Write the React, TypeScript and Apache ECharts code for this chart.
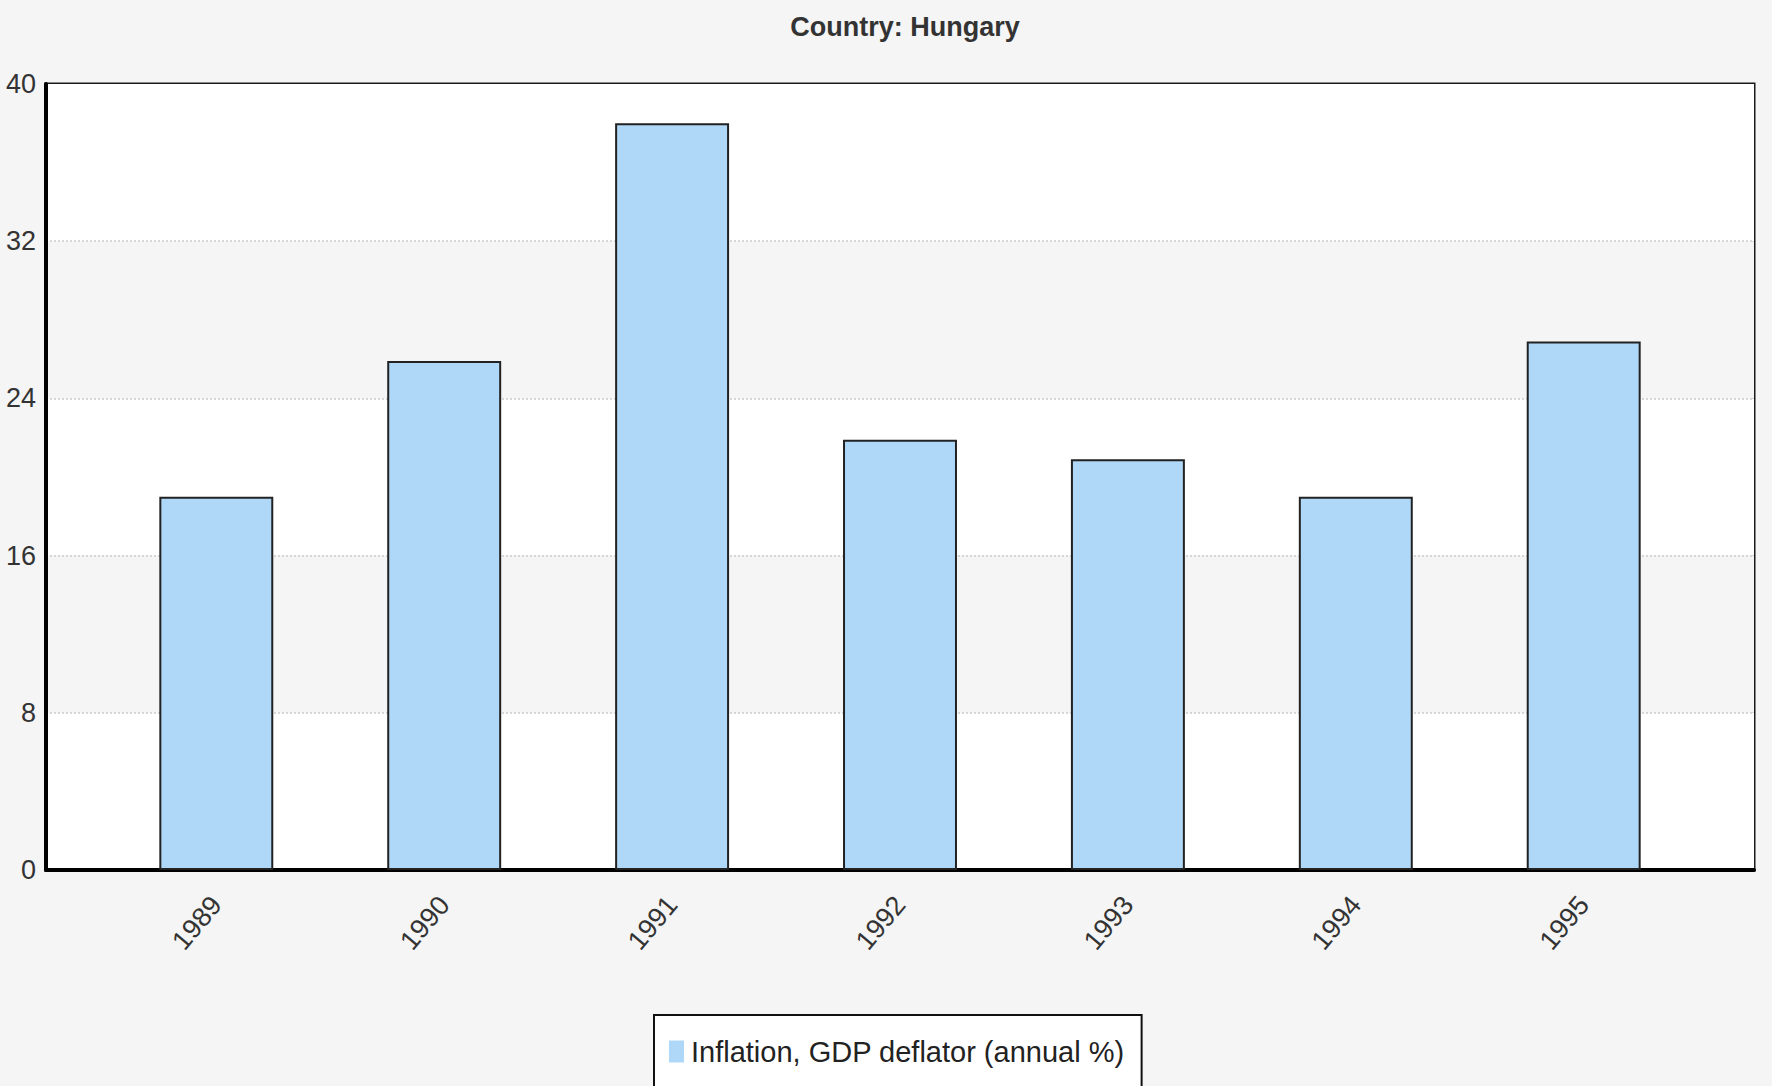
import React, { useEffect, useRef } from "react";
import * as echarts from "echarts";

const years = ["1989", "1990", "1991", "1992", "1993", "1994", "1995"];
const inflation = [19.0, 25.9, 38.0, 21.9, 20.9, 19.0, 26.9];
const seriesName = "Inflation, GDP deflator (annual %)";
const titleText = "Country: Hungary";
const yMin = 0;
const yMax = 40;
const yStep = 8;

export default function App() {
  const ref = useRef<HTMLDivElement>(null);
  useEffect(() => {
    if (!ref.current) return;
    const chart = echarts.init(ref.current, null, { renderer: "svg" });
    const font = "Liberation Sans";
    chart.setOption({
      animation: false,
      backgroundColor: "#f5f5f5",
      title: {
        text: titleText,
        left: 900,
        top: 8,
        textAlign: "center",
        textStyle: { fontFamily: font, fontSize: 27, fontWeight: "bold", color: "#333" },
      },
      legend: {
        data: [seriesName],
        left: 654,
        top: 1015,
        orient: "horizontal",
        backgroundColor: "#ffffff",
        borderColor: "#111",
        borderWidth: 2,
        padding: [22, 17, 22, 15],
        itemWidth: 15,
        itemHeight: 22,
        itemGap: 10,
        icon: "rect",
        itemStyle: { borderWidth: 0 },
        textStyle: { fontFamily: font, fontSize: 29, color: "#222", padding: [0, 0, 0, 2] },
      },
      grid: [
        { left: 46, right: 18, top: 84, bottom: 216, show: true, borderColor: "#1a1a1a", borderWidth: 3, backgroundColor: "transparent" },
        { left: 102.35, right: 74.35, top: 84, bottom: 216 },
      ],
      xAxis: [
        {
          gridIndex: 0,
          type: "value",
          min: 0,
          max: 1,
          axisLine: { show: true, onZero: false, lineStyle: { color: "#000", width: 4 } },
          axisTick: { show: false },
          axisLabel: { show: false },
          splitLine: { show: false },
        },
        {
          gridIndex: 1,
          type: "category",
          data: years,
          axisLine: { show: false },
          axisTick: { show: false },
          axisLabel: {
            rotate: 50,
            margin: 30,
            fontFamily: font,
            fontSize: 27,
            color: "#333",
            interval: 0,
          },
        },
      ],
      yAxis: [
        {
          gridIndex: 0,
          type: "value",
          min: yMin,
          max: yMax,
          interval: yStep,
          axisLine: { show: true, lineStyle: { color: "#000", width: 4 } },
          axisTick: { show: false },
          axisLabel: { margin: 10, fontFamily: font, fontSize: 27, color: "#333" },
          splitLine: {
            show: true,
            showMinLine: false,
            showMaxLine: false,
            lineStyle: { color: "#d6d6d6", type: "dotted", width: 2 },
          },
          splitArea: { show: true, areaStyle: { color: ["#ffffff", "#f5f5f5"] } },
        },
        {
          gridIndex: 1,
          type: "value",
          min: yMin,
          max: yMax,
          interval: yStep,
          show: false,
          splitLine: { show: false },
        },
      ],
      series: [
        {
          name: seriesName,
          type: "bar",
          xAxisIndex: 1,
          yAxisIndex: 1,
          data: inflation,
          barWidth: "50%",
          itemStyle: { color: "#afd8f8", borderColor: "#222", borderWidth: 2 },
        },
      ],
    });
    return () => chart.dispose();
  }, []);
  return <div ref={ref} style={{ position: "absolute", left: 0, top: 0, width: 1772, height: 1086 }} />;
}
